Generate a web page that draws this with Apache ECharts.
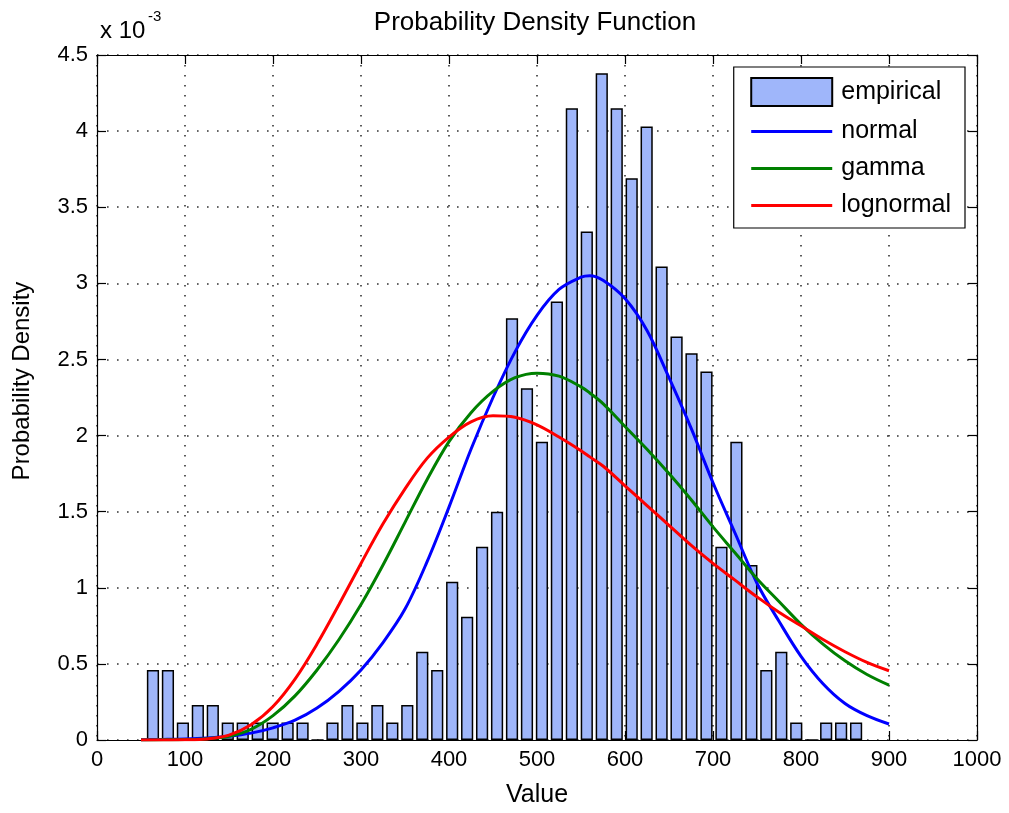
<!DOCTYPE html>
<html>
<head>
<meta charset="utf-8">
<title>Probability Density Function</title>
<script src="https://cdn.jsdelivr.net/npm/echarts@6/dist/echarts.min.js"></script>
<style>
  html, body { margin: 0; padding: 0; background: #ffffff; }
  #chart { width: 1009px; height: 813px; }
</style>
</head>
<body>
<div id="chart"></div>
<script>
// Histogram bin centres (Value) and empirical densities (x 10^-3)
const binCenters = [63.6, 80.6, 97.6, 114.6, 131.6, 148.6, 165.6, 182.6, 199.6, 216.6,
  233.6, 250.6, 267.6, 284.6, 301.6, 318.6, 335.6, 352.6, 369.6, 386.6,
  403.6, 420.6, 437.6, 454.6, 471.6, 488.6, 505.6, 522.6, 539.6, 556.6,
  573.6, 590.6, 607.6, 624.6, 641.6, 658.6, 675.6, 692.6, 709.6, 726.6,
  743.6, 760.6, 777.6, 794.6, 811.6, 828.6, 845.6, 862.6];
const empirical = [0.46, 0.46, 0.115, 0.23, 0.23, 0.115, 0.115, 0.115, 0.115, 0.115,
  0.115, 0, 0.115, 0.23, 0.115, 0.23, 0.115, 0.23, 0.58, 0.46,
  1.04, 0.81, 1.27, 1.5, 2.77, 2.31, 1.96, 2.88, 4.15, 3.34,
  4.38, 4.15, 3.69, 4.03, 3.11, 2.65, 2.54, 2.42, 1.27, 1.96,
  1.15, 0.46, 0.58, 0.115, 0, 0.115, 0.115, 0.115];

// Fitted density curves sampled along Value (x 10^-3)
const curveX = [50, 75, 100, 125, 150, 175, 200, 225, 250, 275, 300, 325, 350, 375, 400,
  425, 450, 475, 500, 525, 550, 560, 575, 600, 625, 650, 675, 700, 725, 750, 775, 800,
  825, 850, 875, 900];
const normalPdf = [0.002, 0.004, 0.007, 0.013, 0.024, 0.045, 0.08, 0.13, 0.21, 0.32, 0.46,
  0.64, 0.86, 1.17, 1.53, 1.91, 2.25, 2.55, 2.79, 2.96, 3.04, 3.05, 3.02, 2.90, 2.69, 2.38,
  2.05, 1.69, 1.36, 1.03, 0.78, 0.55, 0.37, 0.24, 0.16, 0.105];
const gammaPdf = [0.000, 0.001, 0.003, 0.009, 0.025, 0.07, 0.16, 0.29, 0.46, 0.66, 0.89,
  1.15, 1.43, 1.71, 1.96, 2.15, 2.29, 2.38, 2.41, 2.39, 2.32, 2.28, 2.21, 2.06, 1.91, 1.75,
  1.58, 1.40, 1.23, 1.06, 0.91, 0.76, 0.63, 0.52, 0.43, 0.36];
const lognormalPdf = [0.000, 0.000, 0.001, 0.007, 0.032, 0.10, 0.22, 0.40, 0.63, 0.89, 1.16,
  1.42, 1.65, 1.85, 1.99, 2.09, 2.13, 2.12, 2.07, 1.99, 1.90, 1.86, 1.80, 1.67, 1.54, 1.41,
  1.28, 1.16, 1.05, 0.94, 0.84, 0.75, 0.66, 0.58, 0.51, 0.455];

const FONT = "'Liberation Sans', Arial, Helvetica, sans-serif";

const pairs = (xs, ys) => xs.map((x, i) => [x, ys[i]]);

const dotted = { color: '#333', width: 1.6, type: [1.6, 8.4] };
const frameLine = { color: '#000', width: 1.2 };
const innerTick = { show: true, inside: true, length: 9, lineStyle: { color: '#000', width: 1.2 } };
// Hide the marker that line legend icons draw by default
const noMarker = { color: 'rgba(0,0,0,0)', borderWidth: 0, opacity: 0 };

const chart = echarts.init(document.getElementById('chart'), null, { renderer: 'canvas' });

chart.setOption({
  animation: false,
  backgroundColor: '#ffffff',
  textStyle: { fontFamily: FONT, color: '#000' },
  grid: { left: 97, right: 32, top: 55, bottom: 68, containLabel: false },
  xAxis: [
    {
      type: 'value', min: 0, max: 1000, interval: 100, position: 'bottom',
      name: 'Value', nameLocation: 'middle', nameGap: 43,
      nameTextStyle: { fontSize: 25, color: '#000', fontFamily: FONT },
      axisLine: { show: true, onZero: false, lineStyle: frameLine },
      axisTick: innerTick,
      axisLabel: { fontSize: 22, color: '#000', margin: 9, fontFamily: FONT,
                   formatter: v => String(v) },
      splitLine: { show: true, lineStyle: dotted }
    },
    {
      type: 'value', min: 0, max: 1000, interval: 100, position: 'top',
      axisLine: { show: true, onZero: false, lineStyle: frameLine },
      axisTick: innerTick,
      axisLabel: { show: false },
      splitLine: { show: false }
    }
  ],
  yAxis: [
    {
      type: 'value', min: 0, max: 4.5, interval: 0.5, position: 'left',
      axisLine: { show: true, onZero: false, lineStyle: frameLine },
      axisTick: innerTick,
      axisLabel: { fontSize: 22, color: '#000', margin: 9, fontFamily: FONT },
      splitLine: { show: true, lineStyle: dotted }
    },
    {
      type: 'value', min: 0, max: 4.5, interval: 0.5, position: 'right',
      axisLine: { show: true, onZero: false, lineStyle: frameLine },
      axisTick: innerTick,
      axisLabel: { show: false },
      splitLine: { show: false }
    }
  ],
  legend: {
    orient: 'vertical',
    right: 44, top: 67,
    backgroundColor: '#ffffff',
    borderColor: '#000', borderWidth: 1.2, borderRadius: 0,
    padding: [10, 14, 10, 16],
    itemWidth: 81, itemHeight: 28, itemGap: 12,
    textStyle: { fontSize: 25, color: '#000', fontFamily: FONT, padding: [0, 0, 0, 4] },
    lineStyle: { width: 3 },
    data: [
      { name: 'empirical', icon: 'rect' },
      { name: 'normal', itemStyle: noMarker },
      { name: 'gamma', itemStyle: noMarker },
      { name: 'lognormal', itemStyle: noMarker }
    ]
  },
  graphic: [
    {
      type: 'text', x: 535, y: 23,
      style: { text: 'Probability Density Function', font: '26px ' + FONT, fill: '#000',
               textAlign: 'center', textVerticalAlign: 'middle' }
    },
    {
      type: 'text', x: 22, y: 381, rotation: Math.PI / 2,
      style: { text: 'Probability Density', font: '24px ' + FONT, fill: '#000',
               textAlign: 'center', textVerticalAlign: 'middle' }
    },
    {
      type: 'text', x: 100, y: 31,
      style: { text: 'x 10', font: '24px ' + FONT, fill: '#000',
               textAlign: 'left', textVerticalAlign: 'middle' }
    },
    {
      type: 'text', x: 148, y: 17,
      style: { text: '-3', font: '15px ' + FONT, fill: '#000',
               textAlign: 'left', textVerticalAlign: 'middle' }
    }
  ],
  series: [
    {
      name: 'empirical', type: 'bar',
      xAxisIndex: 0, yAxisIndex: 0,
      barWidth: 12.2,
      itemStyle: { color: '#9fb6fa', borderColor: '#000', borderWidth: 1.5 },
      data: pairs(binCenters, empirical)
    },
    {
      name: 'normal', type: 'line', smooth: 0.35, symbol: 'none', showSymbol: false,
      lineStyle: { color: '#0000ff', width: 3 }, itemStyle: { color: '#0000ff' },
      data: pairs(curveX, normalPdf)
    },
    {
      name: 'gamma', type: 'line', smooth: 0.35, symbol: 'none', showSymbol: false,
      lineStyle: { color: '#008000', width: 3 }, itemStyle: { color: '#008000' },
      data: pairs(curveX, gammaPdf)
    },
    {
      name: 'lognormal', type: 'line', smooth: 0.35, symbol: 'none', showSymbol: false,
      lineStyle: { color: '#ff0000', width: 3 }, itemStyle: { color: '#ff0000' },
      data: pairs(curveX, lognormalPdf)
    }
  ]
});
</script>
</body>
</html>
